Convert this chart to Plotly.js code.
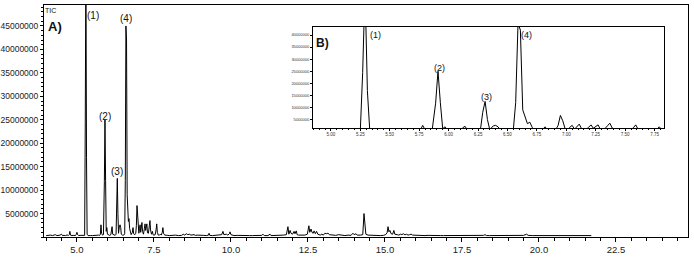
<!DOCTYPE html>
<html>
<head>
<meta charset="utf-8">
<script src="https://cdn.plot.ly/plotly-3.0.1.min.js"></script>
<style>html,body{margin:0;padding:0;background:#fff}#chart{width:694px;height:258px}</style>
</head>
<body>
<div id="chart"></div>
<script>
// Retention time (min)
const rt = [
4.00,4.05,4.10,4.15,4.20,4.25,4.30,4.35,4.40,4.45,4.50,4.53,4.58,4.63,4.68,4.72,4.75,4.77,4.79,4.84,
4.90,4.95,4.98,5.00,5.02,5.06,5.10,5.15,5.20,5.25,5.27,5.29,5.31,5.33,5.36,5.40,5.45,5.50,5.55,5.60,
5.65,5.70,5.74,5.76,5.78,5.80,5.83,5.86,5.89,5.91,5.93,5.95,5.97,5.99,6.02,6.06,6.10,6.12,6.14,6.16,
6.20,6.24,6.27,6.29,6.31,6.33,6.35,6.38,6.40,6.42,6.44,6.48,6.52,6.55,6.57,6.59,6.61,6.63,6.65,6.67,
6.69,6.71,6.73,6.76,6.80,6.82,6.84,6.88,6.91,6.93,6.95,6.97,6.99,7.01,7.03,7.05,7.07,7.09,7.11,7.13,
7.16,7.19,7.21,7.23,7.25,7.27,7.29,7.32,7.35,7.37,7.39,7.42,7.45,7.47,7.50,7.54,7.57,7.59,7.61,7.64,
7.68,7.71,7.74,7.77,7.79,7.81,7.85,7.90,7.95,8.00,8.05,8.10,8.20,8.30,8.40,8.45,8.50,8.55,8.60,8.65,
8.70,8.80,8.85,8.90,9.00,9.10,9.20,9.27,9.29,9.31,9.40,9.50,9.60,9.70,9.74,9.77,9.85,9.90,9.95,9.97,
10.00,10.05,10.10,10.20,10.30,10.40,10.50,10.60,10.70,10.80,10.90,11.00,11.04,11.08,11.20,11.27,11.30,11.40,11.50,11.60,
11.70,11.80,11.85,11.88,11.92,11.95,12.00,12.05,12.08,12.12,12.15,12.20,12.30,12.40,12.48,12.53,12.56,12.60,12.63,12.67,
12.70,12.74,12.78,12.82,12.90,12.95,13.00,13.05,13.10,13.15,13.20,13.30,13.40,13.50,13.60,13.70,13.80,13.90,13.96,14.00,
14.06,14.10,14.20,14.28,14.32,14.35,14.38,14.45,14.55,14.65,14.75,14.85,14.95,15.02,15.07,15.10,15.13,15.16,15.20,15.25,
15.29,15.32,15.40,15.45,15.50,15.55,15.60,15.65,15.70,15.75,15.80,15.85,15.90,16.00,16.10,16.20,16.30,16.40,16.50,16.60,
16.70,16.80,16.90,17.00,17.10,17.20,17.30,17.40,17.50,17.60,17.70,17.80,17.90,18.00,18.10,18.20,18.25,18.30,18.40,18.50,
18.60,18.70,18.80,18.90,19.00,19.10,19.20,19.30,19.40,19.50,19.60,19.65,19.80,19.90,20.00,20.20,20.40,20.60,20.80,21.00,
21.20,21.40,21.60,21.70
];
// Total ion current, in millions of counts
const ticMillions = [
0.30,0.35,0.30,0.40,0.30,0.35,0.50,0.30,0.30,0.40,0.60,0.30,0.35,0.30,0.45,0.30,0.50,1.20,0.40,0.30,
0.35,0.30,0.60,1.00,0.50,0.30,0.35,0.30,0.30,0.35,24.5,60.0,17.0,0.60,0.30,0.35,0.30,0.30,0.35,0.30,
0.30,0.40,0.35,0.60,2.60,0.80,0.40,0.50,11.8,25.0,12.0,1.20,2.00,0.60,0.40,0.35,0.50,1.60,2.20,0.60,
0.40,0.35,0.60,8.00,12.5,5.00,0.80,2.40,2.60,2.00,0.60,0.40,0.40,0.70,12.0,45.0,42.0,9.00,6.30,3.30,
3.90,1.80,0.80,0.50,1.00,2.00,0.70,0.50,0.80,2.50,6.70,4.50,1.20,0.80,1.80,2.60,1.00,2.00,3.10,1.20,
0.60,1.80,2.80,1.40,2.20,2.80,0.90,0.80,2.40,3.50,1.50,0.60,1.20,0.50,0.40,0.50,1.60,2.80,1.00,0.40,
0.40,0.60,0.40,1.00,2.00,0.80,0.40,0.30,0.35,0.30,0.35,0.30,0.40,0.30,0.35,0.60,0.40,0.70,0.50,0.60,
0.40,0.50,0.35,0.40,0.30,0.35,0.30,0.40,0.80,0.35,0.30,0.35,0.30,0.50,1.20,0.50,0.60,0.40,0.70,1.10,
0.50,0.40,0.30,0.35,0.30,0.30,0.35,0.30,0.30,0.35,0.30,0.35,0.60,0.30,0.30,0.60,0.30,0.30,0.35,0.30,
0.40,0.50,2.20,0.60,1.40,0.80,0.60,1.20,0.70,1.30,0.50,0.40,0.35,0.40,0.60,2.40,1.00,1.70,1.00,0.80,
1.30,0.70,1.20,0.60,0.40,0.60,0.40,0.80,0.70,0.80,0.50,0.40,0.35,0.50,0.35,0.30,0.40,0.35,0.80,0.50,
0.70,0.40,0.40,0.50,5.00,2.70,0.60,0.40,0.35,0.30,0.35,0.30,0.35,0.50,0.90,2.20,1.10,1.40,0.70,0.60,
1.40,0.60,0.50,0.40,0.60,0.50,0.70,0.45,0.60,0.40,0.50,0.60,0.40,0.35,0.30,0.35,0.30,0.35,0.30,0.30,
0.35,0.30,0.30,0.30,0.45,0.30,0.30,0.35,0.30,0.30,0.30,0.35,0.30,0.30,0.30,0.35,0.50,0.30,0.30,0.30,
0.35,0.30,0.30,0.35,0.30,0.30,0.35,0.30,0.30,0.35,0.60,0.35,0.30,0.30,0.35,0.30,0.30,0.35,0.30,0.30,
0.35,0.30,0.30,0.30
];
const tic = ticMillions.map(v => v * 1e6);

const mainYTicks = [5e6,10e6,15e6,20e6,25e6,30e6,35e6,40e6,45e6];
const insetYTicks = [5e6,10e6,15e6,20e6,25e6,30e6,35e6,40e6];
const peakLabels = ['(1)','(2)','(3)','(4)'];

const ff = 'Liberation Sans, Arial, sans-serif';
const lineStyle = {color:'#000', width:1};

const traces = [
  {x: rt, y: tic, type:'scatter', mode:'lines', line: lineStyle, xaxis:'x', yaxis:'y', hoverinfo:'skip'},
  {x: rt, y: tic, type:'scatter', mode:'lines', line: lineStyle, xaxis:'x2', yaxis:'y2', hoverinfo:'skip'}
];

function ann(text, x, y, xref, yref, size, bold) {
  return {text: bold ? '<b>'+text+'</b>' : text, x, y, xref, yref, showarrow:false,
          font:{family:ff, size:size, color:'#111'}, xanchor:'center', yanchor:'middle'};
}

const layout = {
  width:694, height:258,
  margin:{l:44, r:6, t:5, b:21},
  paper_bgcolor:'#fff', plot_bgcolor:'rgba(0,0,0,0)',
  showlegend:false,
  font:{family:ff, color:'#222'},
  xaxis:{
    domain:[0,1], range:[3.93,24.84], anchor:'y',
    showline:true, linecolor:'#000', linewidth:1, mirror:true,
    ticks:'outside', ticklen:4, tickcolor:'#000', tickwidth:1,
    dtick:2.5, tick0:0, tickformat:'.1f', tickangle:0,
    minor:{dtick:0.5, tick0:0, ticks:'outside', ticklen:3, tickcolor:'#000', showgrid:false},
    showgrid:false, zeroline:false,
    tickfont:{family:ff, size:9.5, color:'#222'}
  },
  yaxis:{
    domain:[0,1], range:[0,49.47e6], anchor:'x',
    showline:true, linecolor:'#000', linewidth:1, mirror:true,
    ticks:'outside', ticklen:3, tickcolor:'#000',
    tickmode:'array', tickvals:mainYTicks, ticktext:mainYTicks.map(v=>String(v)),
    minor:{dtick:1e6, tick0:0, ticks:'outside', ticklen:2, tickcolor:'#000', showgrid:false},
    showgrid:false, zeroline:false,
    tickfont:{family:ff, size:8.5, color:'#222'}
  },
  xaxis2:{
    domain:[0.4177,0.9627], range:[4.848,7.83], anchor:'y2',
    showline:true, linecolor:'#000', linewidth:1, mirror:true,
    ticks:'outside', ticklen:2, tickcolor:'#000',
    dtick:0.25, tick0:0, tickformat:'.2f', tickangle:0,
    minor:{dtick:0.05, tick0:0, ticks:'outside', ticklen:1, tickcolor:'#000', showgrid:false},
    showgrid:false, zeroline:false,
    tickfont:{family:ff, size:4.5, color:'#333'}
  },
  yaxis2:{
    domain:[0.4698,0.905], range:[1.5e6,43.3e6], anchor:'x2',
    showline:true, linecolor:'#000', linewidth:1, mirror:true,
    ticks:'outside', ticklen:2, tickcolor:'#000',
    tickmode:'array', tickvals:insetYTicks, ticktext:insetYTicks.map(v=>String(v)),
    showgrid:false, zeroline:false,
    tickfont:{family:ff, size:4, color:'#333'}
  },
  annotations:[
    ann('TIC', 4.15, 48.2e6, 'x', 'y', 7, false),
    ann('A)', 4.30, 44.8e6, 'x', 'y', 13, true),
    ann(peakLabels[0], 5.52, 47.3e6, 'x', 'y', 10, false),
    ann(peakLabels[1], 5.91, 25.6e6, 'x', 'y', 10, false),
    ann(peakLabels[2], 6.30, 13.9e6, 'x', 'y', 10, false),
    ann(peakLabels[3], 6.59, 46.5e6, 'x', 'y', 10, false),
    ann('B)', 4.93, 36.7e6, 'x2', 'y2', 12, true),
    ann(peakLabels[0], 5.383, 40.0e6, 'x2', 'y2', 9, false),
    ann(peakLabels[1], 5.92, 26.3e6, 'x2', 'y2', 9, false),
    ann(peakLabels[2], 6.318, 14.3e6, 'x2', 'y2', 9, false),
    ann(peakLabels[3], 6.666, 40.0e6, 'x2', 'y2', 9, false)
  ]
};

Plotly.newPlot('chart', traces, layout, {staticPlot:true, displayModeBar:false});
</script>
</body>
</html>
